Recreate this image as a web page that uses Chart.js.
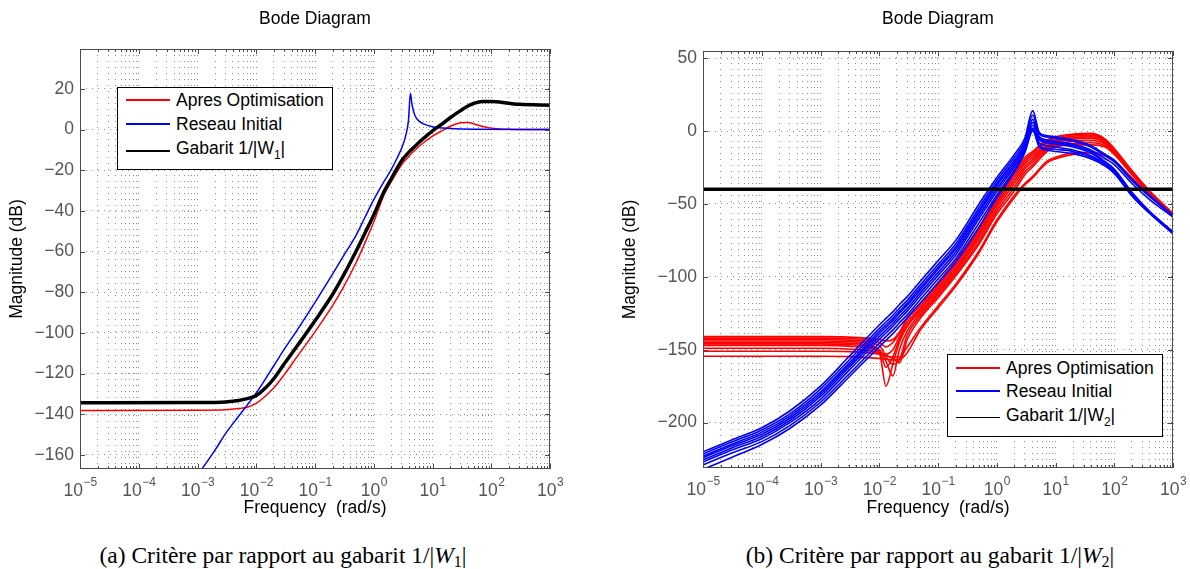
<!DOCTYPE html>
<html lang="fr">
<head>
<meta charset="utf-8">
<title>Bode</title>
<script src="https://cdn.jsdelivr.net/npm/chart.js@4.4.1/dist/chart.umd.min.js"></script>
<style>
  html, body { margin: 0; padding: 0; background: #fff; }
  body { position: relative; width: 1190px; height: 569px; overflow: hidden; font-family: "Liberation Sans", Arial, sans-serif; }
  canvas { position: absolute; top: 0; }
  #bodeW1 { left: 0; }
  #bodeW2 { left: 600px; }
  .legend { position: absolute; box-sizing: border-box; border: 1.4px solid #000; background: #fff; font-size: 17.5px; color: #000; }
  .legend .row { position: absolute; left: 0; height: 0; }
  .legend .sw { position: absolute; left: 8px; width: 44px; height: 2px; top: -1px; }
  .legend .tx { position: absolute; left: 58px; top: -11px; line-height: 22px; white-space: nowrap; }
  .legend sub { font-size: 12px; vertical-align: -5px; line-height: 0; }
  .caption { position: absolute; top: 541px; font-family: "Liberation Serif", "Times New Roman", serif; font-size: 23.5px; line-height: 28px; white-space: nowrap; transform: translateX(-50%); }
  .caption sub { font-size: 16px; vertical-align: -4px; line-height: 0; }
</style>
</head>
<body>
<canvas id="bodeW1" width="600" height="519"></canvas>
<canvas id="bodeW2" width="590" height="519"></canvas>

<div class="legend" style="left:117px; top:87px; width:216px; height:83px;">
  <div class="row" style="top:12px;"><span class="sw" style="background:#ff0000"></span><span class="tx">Apres Optimisation</span></div>
  <div class="row" style="top:35.5px;"><span class="sw" style="background:#0000ff"></span><span class="tx">Reseau Initial</span></div>
  <div class="row" style="top:63px;"><span class="sw" style="background:#000000"></span><span class="tx" style="top:-14px;">Gabarit 1/|W<sub>1</sub>|</span></div>
</div>
<div class="legend" style="left:947px; top:354px; width:216px; height:83px;">
  <div class="row" style="top:13px;"><span class="sw" style="background:#ff0000"></span><span class="tx">Apres Optimisation</span></div>
  <div class="row" style="top:35.5px;"><span class="sw" style="background:#0000ff"></span><span class="tx">Reseau Initial</span></div>
  <div class="row" style="top:62.5px;"><span class="sw" style="background:#000000; height:1px; top:-0.5px"></span><span class="tx" style="top:-14px;">Gabarit 1/|W<sub>2</sub>|</span></div>
</div>

<div class="caption" style="left:283px;">(a) Critère par rapport au gabarit 1/|<i>W</i><sub>1</sub>|</div>
<div class="caption" style="left:930px;">(b) Critère par rapport au gabarit 1/|<i>W</i><sub>2</sub>|</div>

<script>
// axes
const decades = [-5, -4, -3, -2, -1, 0, 1, 2, 3];
const magTicksW1 = [-160, -140, -120, -100, -80, -60, -40, -20, 0, 20];
const magTicksW2 = [-200, -150, -100, -50, 0, 50];

// (a) gabarit 1/|W1|
const freqW1 = [1e-5, 1e-3, 3e-3, 5e-3, 7e-3, 1e-2, 1.5e-2, 2e-2, 3e-2, 5e-2, 0.1, 0.2, 0.3, 0.5, 0.7, 1, 1.5, 2, 3, 4, 5, 7, 10, 15, 20, 30, 40, 50, 70, 100, 200, 300, 1000];
const apresW1 = [-138.1, -138, -137.8, -137.2, -136.5, -134.6, -130.5, -127, -120.5, -111.5, -99.5, -86.5, -77.8, -65.5, -56, -45.5, -32, -25.5, -17.2, -13, -10.2, -6.5, -3.2, -0.4, 1.6, 3.3, 3.5, 2.8, 1.6, 0.7, 0.1, 0, 0];
const gabaritW1 = [-134.3, -134.2, -133.9, -133.2, -132.3, -130.8, -126.5, -122.4, -115.2, -106.3, -94, -81, -72.1, -59.8, -51.2, -42, -30.5, -24, -15.2, -11, -8.3, -4.4, -0.6, 3, 5.8, 9.3, 11.6, 12.8, 13.8, 13.8, 12.9, 12.4, 12];
const freqInitW1 = [1e-3, 2e-3, 3e-3, 5e-3, 7e-3, 1e-2, 2e-2, 3e-2, 5e-2, 0.1, 0.2, 0.3, 0.5, 0.7, 1, 1.5, 2, 2.5, 3, 3.5, 3.9, 4.2, 4.5, 5, 6, 7, 10, 20, 50, 1000];
const initW1 = [-170, -157.5, -149.5, -141, -135.5, -129.5, -116, -108, -98.5, -85, -71, -62.5, -52, -43.5, -34.5, -25.5, -19.5, -14, -9, -3, 4.5, 17.8, 12, 7, 4, 2.8, 1.4, 0.5, 0.1, 0];

// (b) gabarit 1/|W2| : familles de courbes
const freqW2 = [1e-5, 3e-5, 1e-4, 3e-4, 1e-3, 3e-3, 1e-2, 1.3e-2, 1.7e-2, 2.2e-2, 3e-2, 5e-2, 0.1, 0.2, 0.5, 1, 2, 3, 4.1, 5.3, 7, 10, 20, 40, 70, 100, 200, 400, 1000];
const apresW2 = [
  [-141, -141, -141, -141, -141, -141.3, -143, -144, -143, -138, -128, -118.5, -104, -89, -66, -45, -27, -18, -14, -10, -6.5, -4, -2, -1.5, -5.5, -12, -27, -41, -56.5],
  [-142, -142, -142, -142, -142, -142.3, -145, -148, -145, -138.5, -129, -120, -105.5, -90.5, -67.5, -46.5, -28.5, -19.5, -15, -11, -7.5, -5, -2.5, -2, -6, -12.5, -27.5, -41.5, -57],
  [-143, -143, -143, -143, -143, -143.4, -147, -153, -150, -141, -131, -121.5, -107, -92, -69, -48, -30, -21, -16.5, -12.5, -8.5, -6, -3.5, -3, -6.5, -13, -28, -42, -57],
  [-144, -144, -144, -144, -144, -144.4, -150, -162, -155, -143, -133, -122.5, -108.5, -93.5, -70.5, -49.5, -32, -22.5, -18, -14, -10, -7, -4.5, -4, -7, -13.5, -28, -42, -57.5],
  [-145, -145, -145, -145, -145, -145.5, -152, -175, -160, -145, -134, -124, -110, -95, -72, -51, -34, -24.5, -19.5, -15, -11, -8, -5.5, -5, -8, -14, -28.5, -42.5, -57.5],
  [-146, -146, -146, -146, -146, -146.5, -150, -158, -168, -150, -137, -125.5, -111.5, -96.5, -74, -53, -36, -26, -21, -16.5, -12, -9, -7, -6.5, -9, -14.5, -29, -42.5, -58],
  [-147, -147, -147, -147, -147, -147.5, -151, -155, -160, -157, -140, -127, -113, -98, -76, -55, -38.5, -28, -23, -18, -13, -10, -8.5, -8, -10, -15, -29, -43, -58],
  [-149, -149, -149, -149, -149, -149.5, -152, -154, -156, -159, -143, -128.5, -114.5, -99.5, -77.5, -57, -41, -30, -24.5, -19.5, -14.5, -11, -9.5, -9.5, -11, -16, -30, -43, -58],
  [-151, -151, -151, -151, -151, -151.3, -153, -154, -155, -155, -148, -135, -120, -105, -82, -61, -44, -36, -31, -26, -21, -18, -15, -14.5, -16.5, -20.5, -32, -44, -58],
  [-154.5, -154.5, -154.5, -154.5, -154.5, -154.7, -156, -156.5, -157, -156.5, -152, -136.5, -121.5, -106.5, -83.5, -62.5, -45.5, -37, -32, -27, -22, -19, -16, -15, -17, -21, -32.5, -44.5, -58.5]
];
const initW2 = [
  [-220, -212, -203.5, -192, -175, -155, -133, -128.5, -124, -119, -113.5, -103, -89, -75, -50, -32, -16, -5, 14, -1, -3, -4, -6, -10, -16, -20, -33, -44, -58],
  [-221.5, -213.5, -205, -194, -177, -157.5, -135.5, -131, -126.5, -121.5, -116, -105.5, -91.5, -77.5, -52.5, -34, -18, -7, 11, -2, -4, -5, -7, -11, -17, -21, -34, -45, -58],
  [-223, -215, -206.5, -195.5, -179, -159.5, -137.5, -133, -128.5, -123.5, -118, -107.5, -93.5, -79.5, -54.5, -36, -20, -9, 8, -4, -6, -7, -9, -13, -19, -23, -36, -47, -59],
  [-224, -216, -208, -197, -180.5, -161, -139, -134.5, -130, -125, -119.5, -109, -95, -81, -56, -37.5, -21.5, -10.5, 6, -5, -7, -8, -10, -14, -21, -26, -42, -55, -69],
  [-225.5, -217.5, -209.5, -198.5, -182, -162.5, -141, -136.5, -132, -127, -121.5, -111, -97, -83, -58, -39.5, -23, -12, 4, -6, -8, -9, -11, -15, -22, -27, -43, -56, -69.5],
  [-227, -219, -211, -200, -184, -164.5, -143, -138.5, -134, -129, -123.5, -113, -99, -85, -60, -41.5, -24.5, -13, 2, -8, -10, -11, -13, -17, -23, -28, -44, -56, -70],
  [-229, -221, -213, -202, -186, -167, -145.5, -141, -136.5, -131.5, -126, -115.5, -101.5, -87.5, -63, -44, -26.5, -14, 1, -10, -12, -12.5, -14, -18, -23, -28, -44, -56, -70],
  [-232, -224, -215, -204, -188, -169, -148, -143.5, -139, -134, -128, -118, -104, -90, -66, -46, -28, -15, 0, -11, -13, -14, -15.5, -19, -24, -29, -44.5, -56.5, -70.5]
];
const freqGabW2 = [1e-5, 1e3];
const gabaritW2 = [-40, -40];

const FONT = '"Liberation Sans", Arial, sans-serif';
const GRID = '#8f8f8f';
const TICK = '#555';
Chart.defaults.font.family = FONT;
Chart.defaults.font.size = 17.5;
Chart.defaults.color = '#000';

// grille log : 1..9 x 10^n
const xTicks = decades.flatMap(e => e < 3 ? [1, 2, 3, 4, 5, 6, 7, 8, 9].map(m => m * Math.pow(10, e)) : [Math.pow(10, e)]);

function courbe(xs, ys, color, width, order) {
  return {
    data: xs.map((x, i) => ({ x, y: ys[i] })),
    borderColor: color, borderWidth: width, pointRadius: 0,
    cubicInterpolationMode: 'monotone', fill: false, order
  };
}

// cadre, petites graduations et etiquettes 10^n
const cadre = {
  id: 'cadre',
  afterDatasetsDraw(chart) {
    const { ctx, chartArea: a, scales: { x, y } } = chart;
    ctx.save();
    ctx.strokeStyle = '#4a4a4a';
    ctx.lineWidth = 1;
    ctx.strokeRect(Math.round(a.left) + 0.5, Math.round(a.top) + 0.5, Math.round(a.width) - 1, Math.round(a.height) - 1);
    ctx.beginPath();
    xTicks.forEach(v => {
      const lg = Math.log10(v);
      const len = Math.abs(lg - Math.round(lg)) < 1e-9 ? 5 : 3;
      const px = Math.round(x.getPixelForValue(v)) + 0.5;
      ctx.moveTo(px, a.bottom); ctx.lineTo(px, a.bottom - len);
      ctx.moveTo(px, a.top); ctx.lineTo(px, a.top + len);
    });
    y.ticks.forEach(t => {
      const py = Math.round(y.getPixelForValue(t.value)) + 0.5;
      ctx.moveTo(a.left, py); ctx.lineTo(a.left + 5, py);
      ctx.moveTo(a.right, py); ctx.lineTo(a.right - 5, py);
    });
    ctx.stroke();

    ctx.fillStyle = TICK;
    ctx.textBaseline = 'alphabetic';
    decades.forEach(e => {
      const px = x.getPixelForValue(Math.pow(10, e));
      const exp = e < 0 ? '\u2212' + (-e) : String(e);
      ctx.font = '17.5px ' + FONT;
      const wb = ctx.measureText('10').width;
      ctx.font = '12px ' + FONT;
      const we = ctx.measureText(exp).width;
      const left = px - (wb + we) / 2;
      ctx.font = '17.5px ' + FONT;
      ctx.fillText('10', left, a.bottom + 27);
      ctx.font = '12px ' + FONT;
      ctx.fillText(exp, left + wb + 0.5, a.bottom + 17);
    });
    ctx.restore();
  }
};

function bode(id, o) {
  const dashed = { display: false, dash: [1, 5] };
  return new Chart(document.getElementById(id), {
    type: 'line',
    data: { datasets: o.datasets },
    options: {
      responsive: false,
      animation: false,
      layout: { padding: { left: 0, right: o.padRight, top: 0, bottom: 0 } },
      plugins: {
        legend: { display: false },
        tooltip: { enabled: false },
        title: {
          display: true, text: 'Bode Diagram', fullSize: false, color: '#000',
          font: { size: 17.5, weight: 'normal' }, padding: { top: 9, bottom: o.titleGap }
        }
      },
      scales: {
        x: {
          type: 'logarithmic', min: 1e-5, max: 1e3,
          afterBuildTicks: s => { s.ticks = xTicks.map(v => ({ value: v })); },
          afterFit: s => { s.height = o.xHeight; },
          ticks: { display: false },
          grid: { color: GRID, lineWidth: 1, drawTicks: false },
          border: dashed,
          title: { display: true, text: 'Frequency  (rad/s)', color: '#000', padding: 0, font: { size: 17.5 } }
        },
        y: {
          min: o.yMin, max: o.yMax,
          afterBuildTicks: s => { s.ticks = o.yTicks.map(v => ({ value: v })); },
          afterFit: s => { s.width = o.yWidth; },
          ticks: { color: TICK, padding: 6, autoSkip: false, callback: v => v < 0 ? '\u2212' + (-v) : String(v) },
          grid: { color: GRID, lineWidth: 1, drawTicks: false },
          border: dashed,
          title: { display: true, text: 'Magnitude (dB)', color: '#000', padding: { top: o.yTitlePad, bottom: 0 }, font: { size: 17.5 } }
        }
      }
    },
    plugins: [cadre]
  });
}

bode('bodeW1', {
  padRight: 50, yWidth: 80, xHeight: 50, titleGap: 19, yTitlePad: 7,
  yMin: -166.9, yMax: 39.6, yTicks: magTicksW1,
  datasets: [
    courbe(freqW1, gabaritW1, '#000', 3.5, 0),
    courbe(freqInitW1, initW1, '#00f', 1.5, 1),
    courbe(freqW1, apresW1, '#f00', 1.5, 2)
  ]
});

bode('bodeW2', {
  padRight: 17, yWidth: 103, xHeight: 51, titleGap: 21, yTitlePad: 20,
  yMin: -231.1, yMax: 54.9, yTicks: magTicksW2,
  datasets: [
    courbe(freqGabW2, gabaritW2, '#000', 3.5, 0),
    ...initW2.map(c => courbe(freqW2, c, '#00f', 1.6, 1)),
    ...apresW2.map(c => courbe(freqW2, c, '#f00', 1.6, 2))
  ]
});
</script>
</body>
</html>
